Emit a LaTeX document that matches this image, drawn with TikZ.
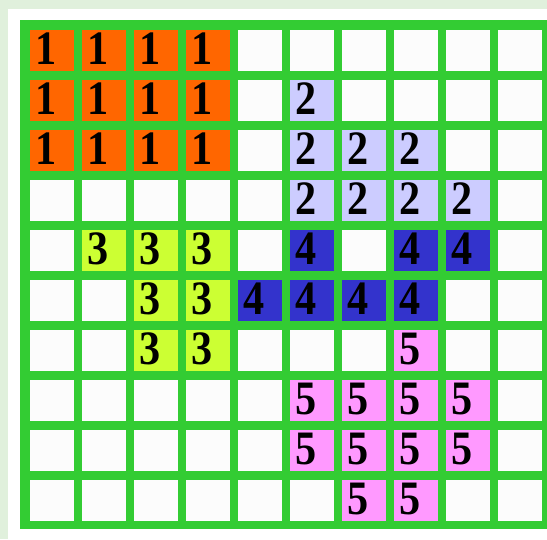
\documentclass[tikz,border=0pt]{standalone}
\usepackage{fontspec}
\setmainfont{Liberation Serif}
\newfontfamily\digitfont[FakeStretch=0.88]{Liberation Serif}
\usetikzlibrary{positioning}
\definecolor{frame-color}{RGB}{224,240,220}
\definecolor{grid-color}{RGB}{51,204,51}
\definecolor{cell0}{RGB}{252,252,252}
\definecolor{cell1}{RGB}{255,102,0}
\definecolor{cell2}{RGB}{204,204,255}
\definecolor{cell3}{RGB}{204,255,51}
\definecolor{cell4}{RGB}{51,51,204}
\definecolor{cell5}{RGB}{255,153,255}

\begin{document}
\begin{tikzpicture}[x=1pt, y=-1pt,
    cell/.style={rectangle, fill=#1, minimum width=44pt, minimum height=41pt, inner sep=0pt, anchor=north west},
    digit/.style={font=\digitfont\fontsize{48}{48}\selectfont\bfseries, inner sep=0pt, anchor=base west}]
    
    % Outer frame and white margin
    \useasboundingbox (0,0) rectangle (547,539);
    \fill[frame-color] (0,0) rectangle (547,539);
    \fill[white] (8,9) rectangle (547,539);
    
    % Green grid background
    \fill[grid-color] (20,20) rectangle (547,529);
    
    % Cells row by row (0 = empty cell)
    \foreach \row [count=\r from 0] in {
        {1,1,1,1,0,0,0,0,0,0},
        {1,1,1,1,0,2,0,0,0,0},
        {1,1,1,1,0,2,2,2,0,0},
        {0,0,0,0,0,2,2,2,2,0},
        {0,3,3,3,0,4,0,4,4,0},
        {0,0,3,3,4,4,4,4,0,0},
        {0,0,3,3,0,0,0,5,0,0},
        {0,0,0,0,0,5,5,5,5,0},
        {0,0,0,0,0,5,5,5,5,0},
        {0,0,0,0,0,0,5,5,0,0}} {
        \foreach \v [count=\c from 0] in \row {
            \node[cell=cell\v] (c\r-\c) at (30+52*\c, 30+50*\r) {};
            \ifnum\v>0
                \node[digit] (d\r-\c) at (35+52*\c, 64+50*\r) {\v};
            \fi
        }
    }
\end{tikzpicture}
\end{document}
